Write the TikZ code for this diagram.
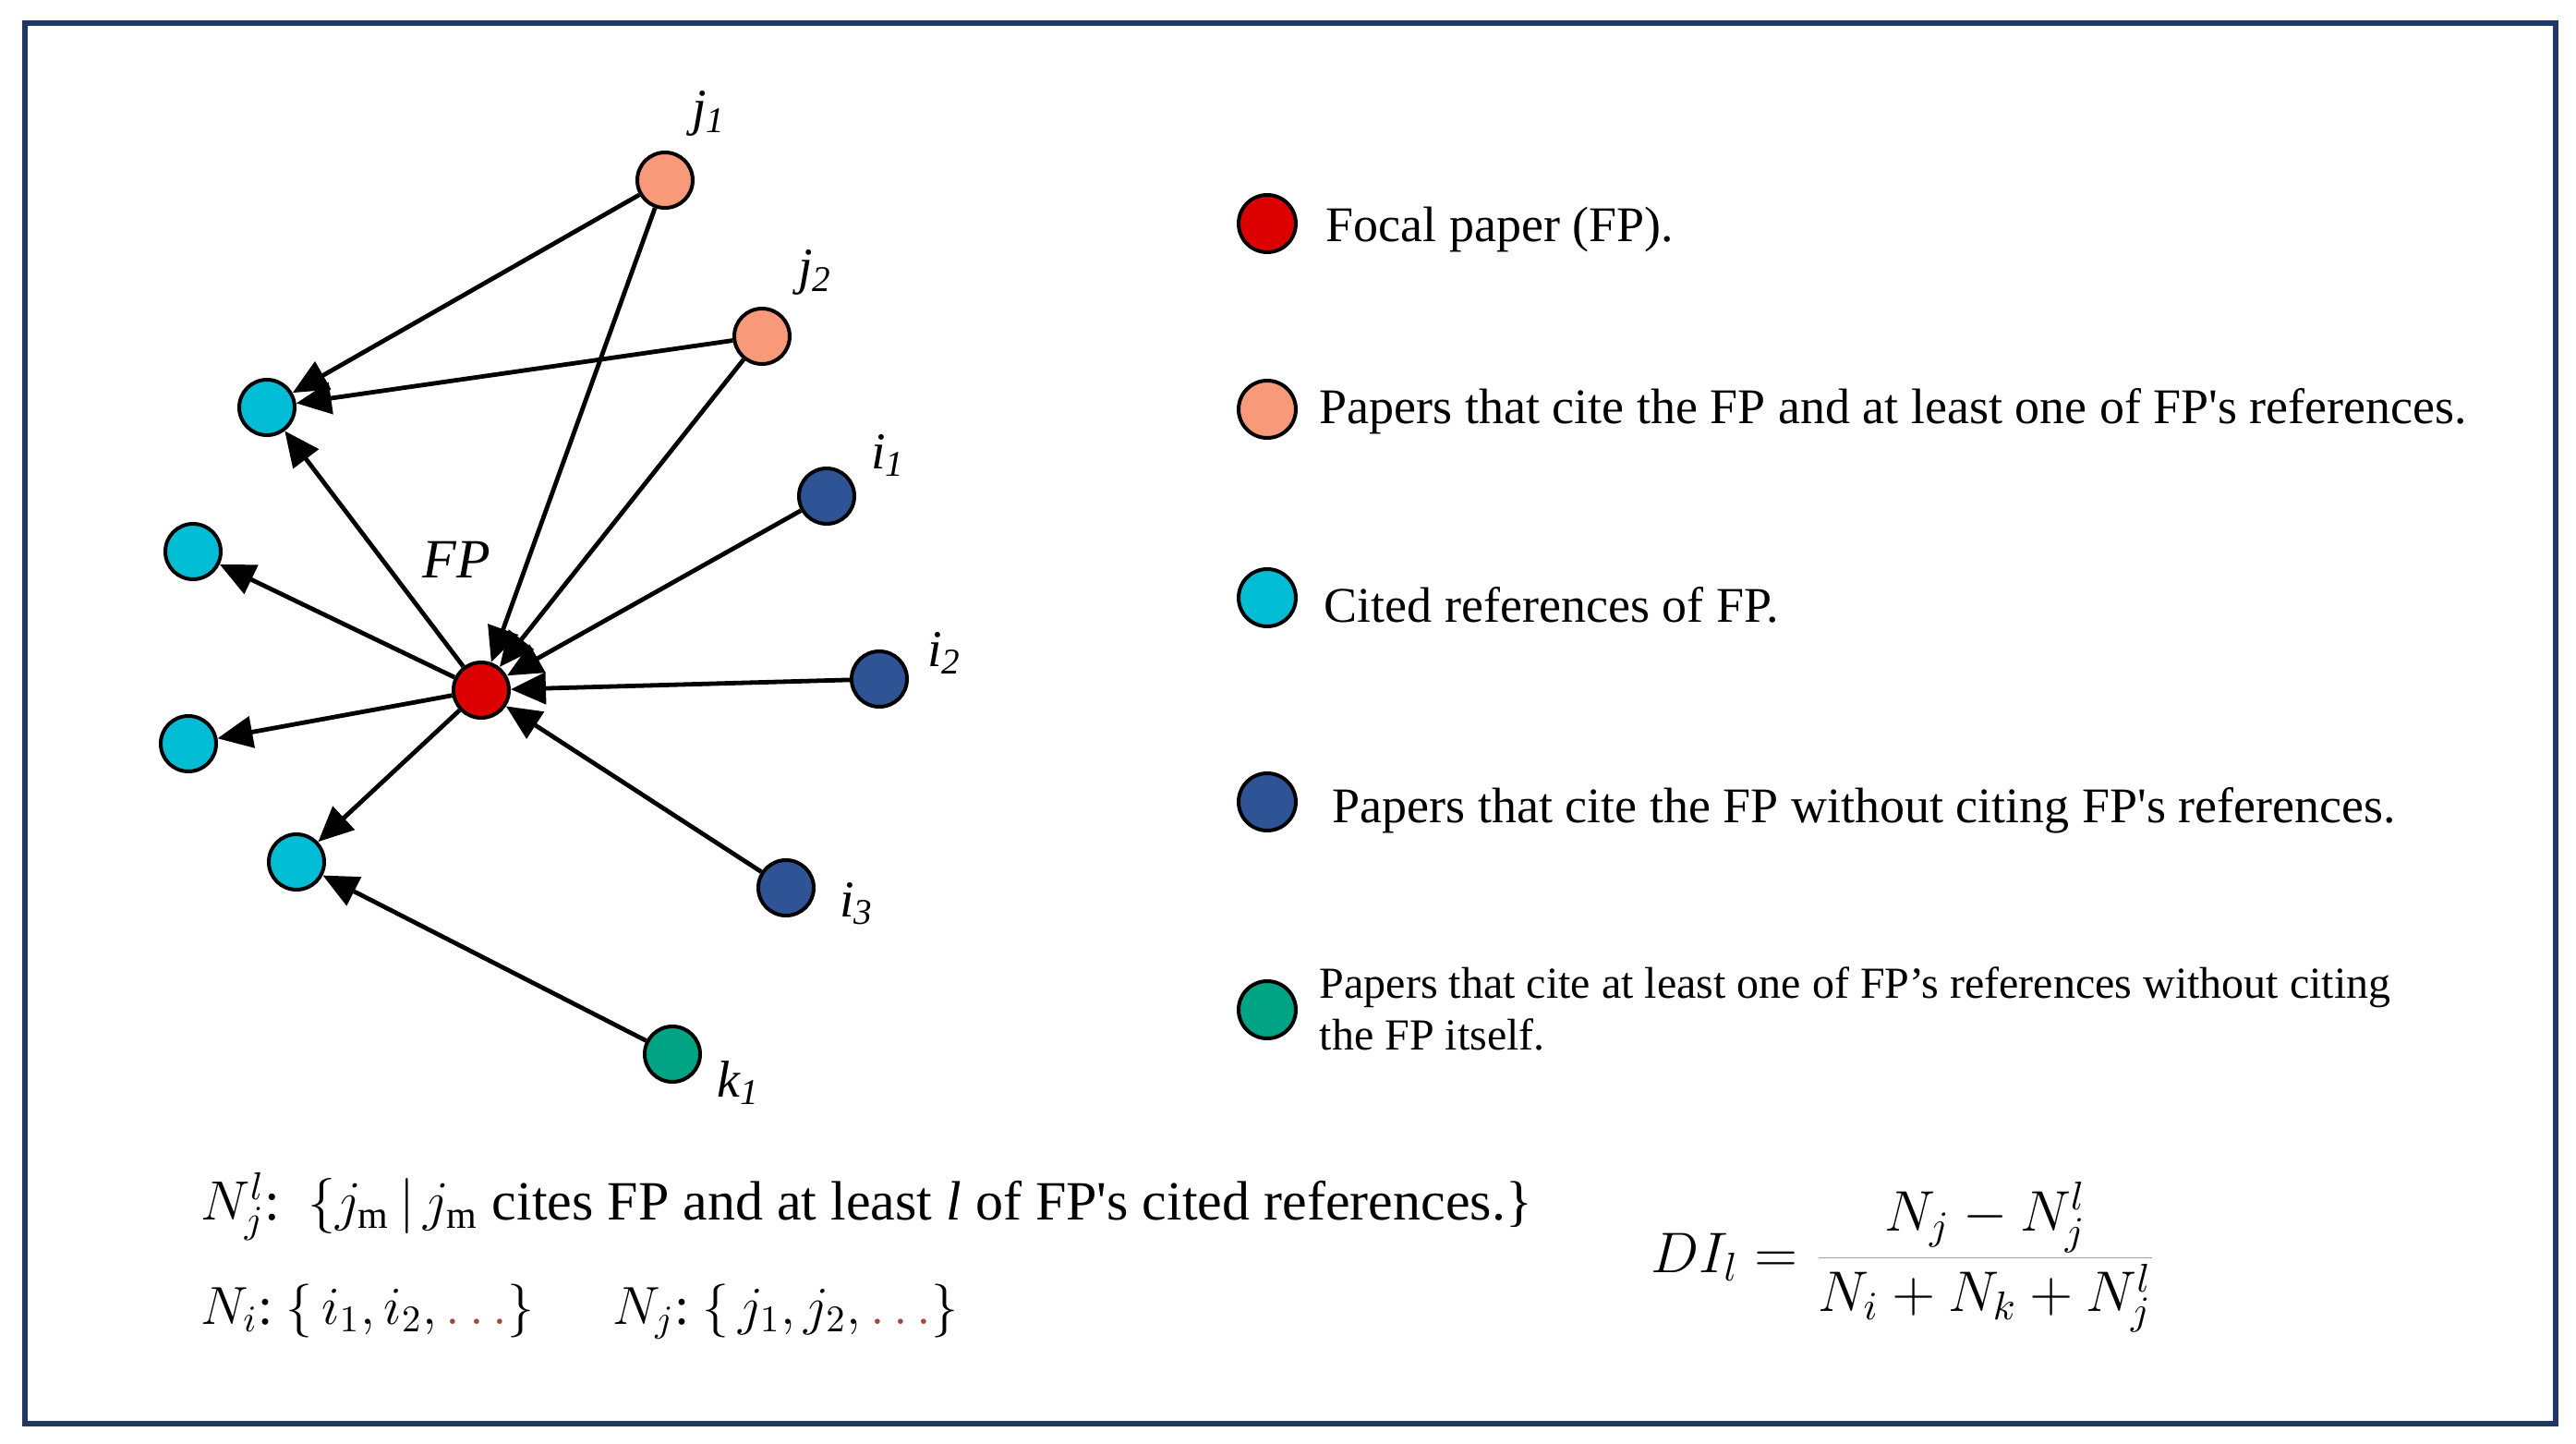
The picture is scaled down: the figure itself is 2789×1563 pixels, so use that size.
\RequirePackage{fix-cm}
\documentclass[tikz,border=0pt]{standalone}
\usepackage{fontspec}
\setmainfont{Liberation Serif}
\usetikzlibrary{arrows.meta}
\definecolor{framec}{RGB}{31,56,100}
\definecolor{fpred}{RGB}{221,0,0}
\definecolor{salmonc}{RGB}{248,154,122}
\definecolor{cyanc}{RGB}{0,188,212}
\definecolor{navyc}{RGB}{47,84,150}
\definecolor{greenc}{RGB}{0,163,131}
\definecolor{dotc}{RGB}{160,70,60}
\definecolor{barc}{RGB}{190,150,150}
\begin{document}
\begin{tikzpicture}[x=0.25pt,y=-0.25pt,
  paper/.style={circle,draw=black,line width=1pt,minimum size=15pt,inner sep=0pt},
  legdot/.style={paper,minimum size=15.5pt},
  cite/.style={draw=black,line width=1.2pt,-{Triangle[length=9.5pt,width=8.5pt]}},
  lab/.style={font=\fontsize{14}{16}\selectfont\itshape,inner sep=0pt},
  legtxt/.style={anchor=base west,inner sep=0pt,font=\fontsize{13.5}{16}\selectfont},
  smalltxt/.style={anchor=base west,inner sep=0pt,font=\fontsize{12}{14}\selectfont},
  deftxt/.style={anchor=base west,inner sep=0pt,font=\fontsize{15}{18}\selectfont},
]
\useasboundingbox (0,0) rectangle (2789,1563);
\draw[framec,line width=1.5pt] (27,25) rectangle (2767,1541);

% graph nodes
\node[paper,fill=salmonc] (j1) at (720,195) {};
\node[paper,fill=salmonc] (j2) at (825,364) {};
\node[paper,fill=cyanc] (c1) at (289,441) {};
\node[paper,fill=cyanc] (c2) at (209,597) {};
\node[paper,fill=cyanc] (c3) at (204,805) {};
\node[paper,fill=cyanc] (c4) at (321,933) {};
\node[paper,fill=fpred] (fp) at (521,747) {};
\node[paper,fill=navyc] (i1) at (895,537) {};
\node[paper,fill=navyc] (i2) at (952,735) {};
\node[paper,fill=navyc] (i3) at (851,961) {};
\node[paper,fill=greenc] (k1) at (728,1141) {};

% labels
\node[font=\fontsize{15}{18}\selectfont\itshape,inner sep=0pt] (fplab) at (494,606) {FP};
\node[lab] (j1lab) at (768,123) {j\textsubscript{1}};
\node[lab] (j2lab) at (883,295) {j\textsubscript{2}};
\node[lab] (i1lab) at (962,493) {i\textsubscript{1}};
\node[lab] (i2lab) at (1023,707) {i\textsubscript{2}};
\node[lab] (i3lab) at (928,978) {i\textsubscript{3}};
\node[lab] (k1lab) at (800,1172) {k\textsubscript{1}};

% edges
\draw[cite] (j1) -- (c1);
\draw[cite] (j1) -- (fp);
\draw[cite] (j2) -- (c1);
\draw[cite] (j2) -- (fp);
\draw[cite] (fp) -- (c1);
\draw[cite] (fp) -- (c2);
\draw[cite] (fp) -- (c3);
\draw[cite] (fp) -- (c4);
\draw[cite] (i1) -- (fp);
\draw[cite] (i2) -- (fp);
\draw[cite] (i3) -- (fp);
\draw[cite] (k1) -- (c4);

% legend
\node[legdot,fill=fpred] (l1) at (1372,242) {};
\node[legdot,fill=salmonc] (l2) at (1372,443) {};
\node[legdot,fill=cyanc] (l3) at (1372,647) {};
\node[legdot,fill=navyc] (l4) at (1372,868) {};
\node[legdot,fill=greenc] (l5) at (1372,1093) {};
\node[legtxt] (t1) at (1435,261) {Focal paper (FP).};
\node[legtxt] (t2) at (1428,458) {Papers that cite the FP and at least one of FP\textquotesingle s references.};
\node[legtxt] (t3) at (1433,673) {Cited references of FP.};
\node[legtxt] (t4) at (1442,890) {Papers that cite the FP without citing FP\textquotesingle s references.};
\node[smalltxt] (t5) at (1428,1080) {Papers that cite at least one of FP’s references without citing};
\node[smalltxt] (t5b) at (1428,1136) {the FP itself.};

% definitions
\node[deftxt] (def1) at (217,1320) {$N_j^{l}$:\ \ $\{j_{\mathrm{m}}\,|\,j_{\mathrm{m}}$ cites FP and at least \textit{l} of FP\textquotesingle s cited references.\}};
\node[deftxt,font=\fontsize{14.5}{17}\selectfont] (def2) at (217,1433) {$N_i$:\ $\{\,i_1,i_2,\textcolor{dotc}{\ldots}\}$};
\node[deftxt,font=\fontsize{14.5}{17}\selectfont] (def3) at (663,1433) {$N_j$:\ $\{\,j_1,j_2,\textcolor{dotc}{\ldots}\}$};

% formula
\node[anchor=base west,inner sep=0pt,font=\fontsize{15.5}{19}\selectfont] (di) at (1787,1377)
  {$\displaystyle DI_l = {\color{barc}\frac{\color{black}N_j - N_j^l}{\color{black}N_i + N_k + N_j^l}}$};
\end{tikzpicture}
\end{document}
